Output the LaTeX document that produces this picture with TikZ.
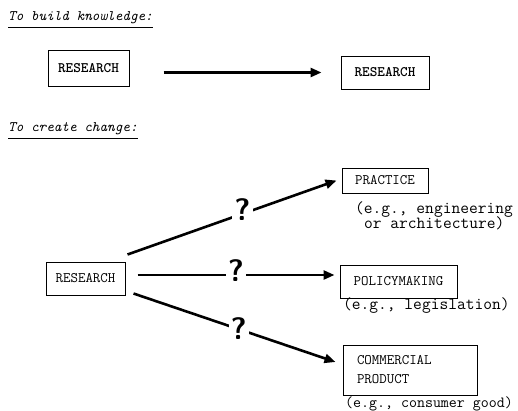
\documentclass[tikz,border=0pt]{standalone}
\usetikzlibrary{arrows.meta}

\begin{document}
\begin{tikzpicture}[x=1pt, y=-1pt,
    box/.style={draw, line width=1pt, inner sep=0pt, font=\ttfamily\fontsize{14.5}{19}\selectfont},
    note/.style={anchor=west, inner sep=0pt, align=left, font=\ttfamily\fontsize{17}{17}\selectfont},
    head/.style={anchor=west, inner sep=0pt, font=\ttfamily\itshape\fontsize{14.5}{17}\selectfont},
    flow/.style={line width=2.6pt, -{Triangle[length=11pt,width=9pt]}},
    q/.style={fill=white, inner sep=2pt, font=\sffamily\bfseries\fontsize{31}{31}\selectfont}]
            \useasboundingbox (0, 0) rectangle (518, 410);

            \node[head] (build) at (8, 18) {To build knowledge:};
            \draw[line width=0.8pt] ([yshift=-3]build.south west) -- ([yshift=-3]build.south east);
            \node[box, font=\ttfamily\bfseries\fontsize{14.5}{17}\selectfont, minimum width=81, minimum height=36] (res) at (88.5, 68) {RESEARCH};
            \node[box, font=\ttfamily\bfseries\fontsize{14.5}{17}\selectfont, minimum width=88, minimum height=33] (know) at (385, 72.5) {RESEARCH};
            \draw[flow] ([xshift=34]res.east |- know.west) -- ([xshift=-19]know.west);

            \node[head] (change) at (8, 129) {To create change:};
            \draw[line width=0.8pt] ([yshift=-3]change.south west) -- ([yshift=-3]change.south east);
            \node[box, minimum width=79, minimum height=33] (src) at (85.5, 278.5) {RESEARCH};

            \node[box, minimum width=86, minimum height=25] (prac) at (385, 180.5) {PRACTICE};
            \node[note] (pracnote) at (355, 216) {(e.g., engineering\\[-2pt]\hspace{9pt}or architecture)};
            \node[box, minimum width=117, minimum height=33] (pol) at (398.5, 281.5) {POLICYMAKING};
            \node[note] (polnote) at (343, 306) {(e.g., legislation)};
            \node[box, minimum width=134, minimum height=50, align=left, text width=106] (prod) at (410, 370) {COMMERCIAL\\PRODUCT};
            \node[note, font=\ttfamily\fontsize{15.5}{11}\selectfont] (prodnote) at (345, 404) {(e.g., consumer good)};

            \draw[flow] ([shift={(2, -7)}]src.north east) -- node[q, pos=0.55, yshift=4] {?} ([xshift=-5]prac.west);
            \draw[flow] ([xshift=12]src.east |- 0, 275) -- node[q, pos=0.5, yshift=4] {?} ([xshift=-5]pol.west |- 0, 275);
            \draw[flow] ([shift={(8, -2)}]src.south east) -- node[q, pos=0.52, yshift=1] {?} ([shift={(-7, -8)}]prod.west);
        \end{tikzpicture}
\end{document}
